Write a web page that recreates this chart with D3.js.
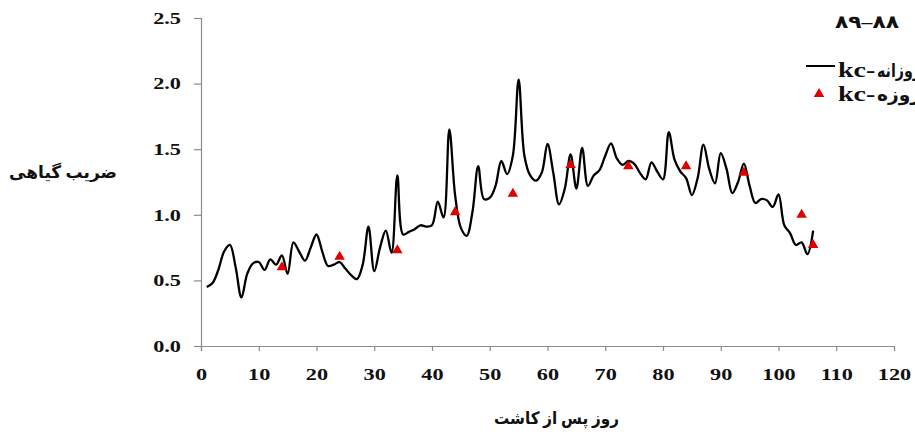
<!DOCTYPE html>
<html>
<head>
<meta charset="utf-8">
<script src="https://cdn.jsdelivr.net/npm/d3@7"></script>
<style>
  html, body { margin: 0; padding: 0; background: #fff; }
  svg { display: block; }
  .tick text { font-family: "Liberation Serif", "Times New Roman", serif; font-weight: bold; font-size: 16.5px; fill: #111; }
  .fa { font-family: "Liberation Serif", "DejaVu Sans", serif; font-weight: bold; fill: #111; }
</style>
</head>
<body>
<svg id="chart" width="915" height="434"></svg>
<script>
// Daily crop coefficient (kc) by day after planting
const days = d3.range(1, 107);
const kcDaily = [
  0.45, 0.48, 0.58, 0.72, 0.77, 0.60, 0.37, 0.55, 0.63, 0.64,
  0.58, 0.66, 0.62, 0.69, 0.55, 0.79, 0.72, 0.65, 0.75, 0.85,
  0.72, 0.61, 0.62, 0.64, 0.59, 0.54, 0.51, 0.62, 0.91, 0.57,
  0.75, 0.88, 0.71, 1.30, 0.85, 0.87, 0.89, 0.92, 0.91, 0.92,
  1.10, 0.98, 1.65, 1.15, 0.90, 0.84, 1.02, 1.37, 1.12, 1.13,
  1.22, 1.41, 1.31, 1.45, 2.03, 1.45, 1.30, 1.26, 1.32, 1.54,
  1.32, 1.08, 1.20, 1.46, 1.20, 1.51, 1.22, 1.30, 1.34, 1.45,
  1.545, 1.43, 1.38, 1.41, 1.39, 1.32, 1.27, 1.40, 1.33, 1.27,
  1.63, 1.42, 1.33, 1.28, 1.15, 1.28, 1.535, 1.35, 1.24, 1.47,
  1.35, 1.165, 1.25, 1.39, 1.22, 1.09, 1.12, 1.11, 1.06, 1.155,
  0.92, 0.86, 0.77, 0.79, 0.70, 0.88
];

// Ten-day kc values
const tenDayDays = [14, 24, 34, 44, 54, 64, 74, 84, 94, 104, 106];
const kcTenDay = [0.60, 0.68, 0.73, 1.02, 1.16, 1.38, 1.37, 1.37, 1.32, 1.00, 0.77];

const xTicks = [0, 10, 20, 30, 40, 50, 60, 70, 80, 90, 100, 110, 120];
const yTicks = [0, 0.5, 1.0, 1.5, 2.0, 2.5];

const yTitle = "ضریب گیاهی";
const xTitle = "روز پس از کاشت";
const seasonLabel = "۸۹–۸۸";
const legendPrefix = "kc-";
const legendWords = ["روزانه", "روزه"];

const svg = d3.select("#chart");

const x = d3.scaleLinear().domain([0, 120]).range([201, 894]);
const y = d3.scaleLinear().domain([0, 2.5]).range([346, 18]);

// Widen glyphs horizontally while keeping each text anchored at its x
function widen(sel, k) {
  sel.each(function () {
    const t = d3.select(this);
    const x0 = +(t.attr("x") || 0);
    t.attr("x", x0 / k).attr("transform", `scale(${k},1)`);
  });
}
// Stretch a left-anchored text so that it spans the given width
function fitWidth(sel, w) {
  sel.each(function () {
    const len = this.getBBox().width;
    if (len > 0) widen(d3.select(this), w / len);
  });
}

// Axes
const xAxis = svg.append("g")
  .attr("transform", `translate(0,${y(0)})`)
  .call(d3.axisBottom(x).tickValues(xTicks).tickFormat(d3.format("d")).tickSize(5).tickPadding(17));
const yAxis = svg.append("g")
  .attr("transform", `translate(${x(0)},0)`)
  .call(d3.axisLeft(y).tickValues(yTicks).tickFormat(d3.format(".1f")).tickSize(7).tickPadding(13));
[xAxis, yAxis].forEach(a => {
  a.select(".domain").attr("stroke", "#8c8c8c").attr("stroke-width", 1.2);
  a.selectAll(".tick line").attr("stroke", "#8c8c8c").attr("stroke-width", 1.2);
  widen(a.selectAll(".tick text"), 1.35);
});

// Daily kc line
const line = d3.line()
  .x((d, i) => x(days[i]))
  .y(d => y(d))
  .curve(d3.curveCatmullRom.alpha(0.5));
svg.append("path")
  .datum(kcDaily)
  .attr("fill", "none")
  .attr("stroke", "#000")
  .attr("stroke-width", 2.3)
  .attr("stroke-linejoin", "round")
  .attr("d", line);

// Ten-day kc markers
const tri = d3.symbol().type(d3.symbolTriangle).size(48);
svg.append("g").selectAll("path")
  .data(kcTenDay)
  .join("path")
  .attr("d", tri)
  .attr("fill", "#e00000")
  .attr("transform", (d, i) => `translate(${x(tenDayDays[i])},${y(d)})`);

// Axis titles
svg.append("text").attr("class", "fa")
  .attr("x", 9).attr("y", 178)
  .attr("font-size", 17)
  .text(yTitle)
  .call(fitWidth, 108);
svg.append("text").attr("class", "fa")
  .attr("x", 494).attr("y", 424)
  .attr("font-size", 17)
  .text(xTitle)
  .call(fitWidth, 125);

// Legend
svg.append("text").attr("class", "fa")
  .attr("x", 835).attr("y", 28)
  .attr("font-size", 18)
  .text(seasonLabel)
  .call(fitWidth, 64);

svg.append("line")
  .attr("x1", 806).attr("x2", 835)
  .attr("y1", 66).attr("y2", 66)
  .attr("stroke", "#000").attr("stroke-width", 2);
svg.append("path")
  .attr("d", tri)
  .attr("fill", "#e00000")
  .attr("transform", `translate(819,94)`);

const legendRows = [77, 101];
legendRows.forEach((yy, i) => {
  svg.append("text").attr("class", "fa")
    .attr("x", 838).attr("y", yy)
    .attr("font-size", 20)
    .text(legendPrefix)
    .call(widen, 1.4);
  svg.append("text").attr("class", "fa")
    .attr("x", 877).attr("y", yy)
    .attr("font-size", 18)
    .text(legendWords[i])
    .call(fitWidth, 44);
});
</script>
</body>
</html>
